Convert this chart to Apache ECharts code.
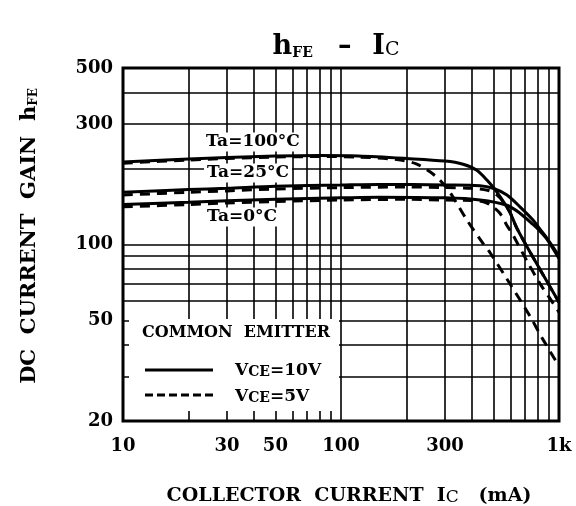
<!DOCTYPE html>
<html><head><meta charset="utf-8">
<script src="https://cdn.jsdelivr.net/npm/echarts@6/dist/echarts.min.js"></script>
<style>html,body{margin:0;padding:0;background:#fff}#c{width:576px;height:506px}</style>
</head><body><div id="c"></div>
<script>
// Axis ticks and grid
const xTicks = [10, 30, 50, 100, 300, 1000];
const yTicks = [20, 50, 100, 300, 500];
const xGrid = [20, 30, 40, 50, 60, 70, 80, 90, 100, 200, 300, 400, 500, 600, 700, 800, 900];
const yGrid = [30, 40, 50, 60, 70, 80, 90, 100, 200, 300, 400];

// Curves [Ic (mA), hFE]
const ta100_vce10 = [[10,212],[20,218],[30,221],[50,224],[80,225],[120,224],[200,219],[300,214],[363,208],[420,197],[467,180],[520,161],[596,134],[641,116],[760,89],[1000,59]];
const ta100_vce5  = [[10,210],[20,216],[30,219],[50,222],[80,223],[120,222],[180,217],[220,209],[256,194],[284,180],[316,161],[378,125],[448,101],[482,93],[577,73],[736,52],[845,42],[1000,33]];
const ta25_vce10  = [[10,161],[20,165],[30,167],[50,170],[100,172],[150,173],[300,172],[434,171],[498,167],[577,157],[662,141],[760,125],[818,115],[880,106],[1000,90]];
const ta25_vce5   = [[10,157],[20,161],[30,163],[50,166],[100,168],[200,169],[300,168],[400,167],[470,164],[520,157],[560,146],[596,134],[641,116],[760,89],[1000,59]];
const ta0_vce10   = [[10,144],[20,147],[30,149],[50,151],[100,153],[150,154],[300,153],[434,150],[577,143],[662,133],[760,120],[818,113],[880,105],[1000,88]];
const ta0_vce5    = [[10,141],[20,144],[30,146],[50,148],[100,150],[200,151],[300,150],[420,149],[467,146],[498,141],[536,133],[577,119],[608,111],[713,86],[818,70],[910,61],[1000,54]];

const F = 'DejaVu Serif';
const chart = echarts.init(document.getElementById('c'), null, {renderer: 'canvas'});

function curve(data, dashed) {
  return {
    type: 'line', data: data, symbol: 'none', smooth: 0.3, z: 5,
    lineStyle: {color: '#000', width: 3, type: dashed ? [10, 7] : 'solid'},
    silent: true
  };
}

const gridSeries = {
  type: 'line', data: [], z: 1, silent: true,
  markLine: {
    symbol: ['none', 'none'], silent: true, animation: false,
    label: {show: false},
    lineStyle: {color: '#000', width: 1.6, type: 'solid'},
    data: xGrid.map(v => ({xAxis: v})).concat(yGrid.map(v => ({yAxis: v})))
  }
};

const bold = {fontFamily: F, fontWeight: 'bold', fill: '#000'};

chart.setOption({
  animation: false,
  grid: {left: 123, right: 17, top: 68, bottom: 85, show: true, borderColor: '#000', borderWidth: 3, backgroundColor: 'transparent'},
  xAxis: {
    type: 'log', logBase: 10, min: 10, max: 1000,
    axisLine: {show: false}, axisTick: {show: false}, splitLine: {show: false}, minorSplitLine: {show: false},
    axisLabel: {
      customValues: xTicks, margin: 16, color: '#000', fontFamily: F, fontWeight: 'bold', fontSize: 18,
      formatter: v => v >= 1000 ? '1k' : String(v)
    }
  },
  yAxis: {
    type: 'log', logBase: 10, min: 20, max: 500,
    axisLine: {show: false}, axisTick: {show: false}, splitLine: {show: false}, minorSplitLine: {show: false},
    axisLabel: {customValues: yTicks, margin: 10, color: '#000', fontFamily: F, fontWeight: 'bold', fontSize: 18}
  },
  series: [
    gridSeries,
    curve(ta100_vce10, false), curve(ta100_vce5, true),
    curve(ta25_vce10, false), curve(ta25_vce5, true),
    curve(ta0_vce10, false), curve(ta0_vce5, true)
  ],
  graphic: [
    // title
    {type: 'text', x: 336, y: 44, z: 100, style: Object.assign({
      text: '{a|h}{b|FE}      {a|–}     {a|I}{c|C}', align: 'center', verticalAlign: 'middle',
      rich: {
        a: {fontFamily: F, fontWeight: 'bold', fontSize: 27, lineHeight: 32, verticalAlign: 'bottom'},
        b: {fontFamily: F, fontWeight: 'bold', fontSize: 14, lineHeight: 14, verticalAlign: 'bottom'},
        c: {fontFamily: F, fontWeight: 'normal', fontSize: 19, lineHeight: 20, verticalAlign: 'bottom'}
      }}, bold)},
    // x axis title
    {type: 'text', x: 349, y: 493, z: 100, style: Object.assign({
      text: '{a|COLLECTOR  CURRENT  I}{c|C}{a|   (mA)}', align: 'center', verticalAlign: 'middle',
      rich: {
        a: {fontFamily: F, fontWeight: 'bold', fontSize: 19, lineHeight: 26, verticalAlign: 'bottom'},
        c: {fontFamily: F, fontWeight: 'normal', fontSize: 17, lineHeight: 20, verticalAlign: 'bottom'}
      }}, bold)},
    // y axis title
    {type: 'text', x: 27, y: 236, rotation: Math.PI / 2, z: 100, style: Object.assign({
      text: '{a|DC  CURRENT  GAIN  h}{b|FE}', align: 'center', verticalAlign: 'middle',
      rich: {
        a: {fontFamily: F, fontWeight: 'bold', fontSize: 21, lineHeight: 26, verticalAlign: 'bottom'},
        b: {fontFamily: F, fontWeight: 'bold', fontSize: 12, lineHeight: 14, verticalAlign: 'bottom'}
      }}, bold)},
    // Ta labels
    {type: 'text', x: 253, y: 142, z: 100, style: Object.assign({text: 'Ta=100°C', fontSize: 17, align: 'center', verticalAlign: 'middle', backgroundColor: '#fff', padding: [1, 3]}, bold)},
    {type: 'text', x: 248, y: 173, z: 100, style: Object.assign({text: 'Ta=25°C', fontSize: 17, align: 'center', verticalAlign: 'middle', backgroundColor: '#fff', padding: [1, 3]}, bold)},
    {type: 'text', x: 242, y: 217, z: 100, style: Object.assign({text: 'Ta=0°C', fontSize: 17, align: 'center', verticalAlign: 'middle', backgroundColor: '#fff', padding: [1, 3]}, bold)},
    // legend box
    {type: 'rect', z: 90, shape: {x: 129, y: 319, width: 210, height: 92}, style: {fill: '#fff'}},
    {type: 'text', x: 142, y: 333, z: 100, style: Object.assign({text: 'COMMON  EMITTER', fontSize: 16, verticalAlign: 'middle'}, bold)},
    {type: 'line', z: 100, shape: {x1: 145, y1: 370, x2: 213, y2: 370}, style: {stroke: '#000', lineWidth: 3}},
    {type: 'line', z: 100, shape: {x1: 145, y1: 395, x2: 213, y2: 395}, style: {stroke: '#000', lineWidth: 3, lineDash: [8, 4]}},
    {type: 'text', x: 235, y: 368, z: 100, style: Object.assign({
      text: '{a|V}{b|CE}{a|=10V}', verticalAlign: 'middle',
      rich: {
        a: {fontFamily: F, fontWeight: 'bold', fontSize: 17, lineHeight: 22, verticalAlign: 'bottom'},
        b: {fontFamily: F, fontWeight: 'bold', fontSize: 14, lineHeight: 16, verticalAlign: 'bottom'}
      }}, bold)},
    {type: 'text', x: 235, y: 394, z: 100, style: Object.assign({
      text: '{a|V}{b|CE}{a|=5V}', verticalAlign: 'middle',
      rich: {
        a: {fontFamily: F, fontWeight: 'bold', fontSize: 17, lineHeight: 22, verticalAlign: 'bottom'},
        b: {fontFamily: F, fontWeight: 'bold', fontSize: 14, lineHeight: 16, verticalAlign: 'bottom'}
      }}, bold)}
  ]
});
</script></body></html>
